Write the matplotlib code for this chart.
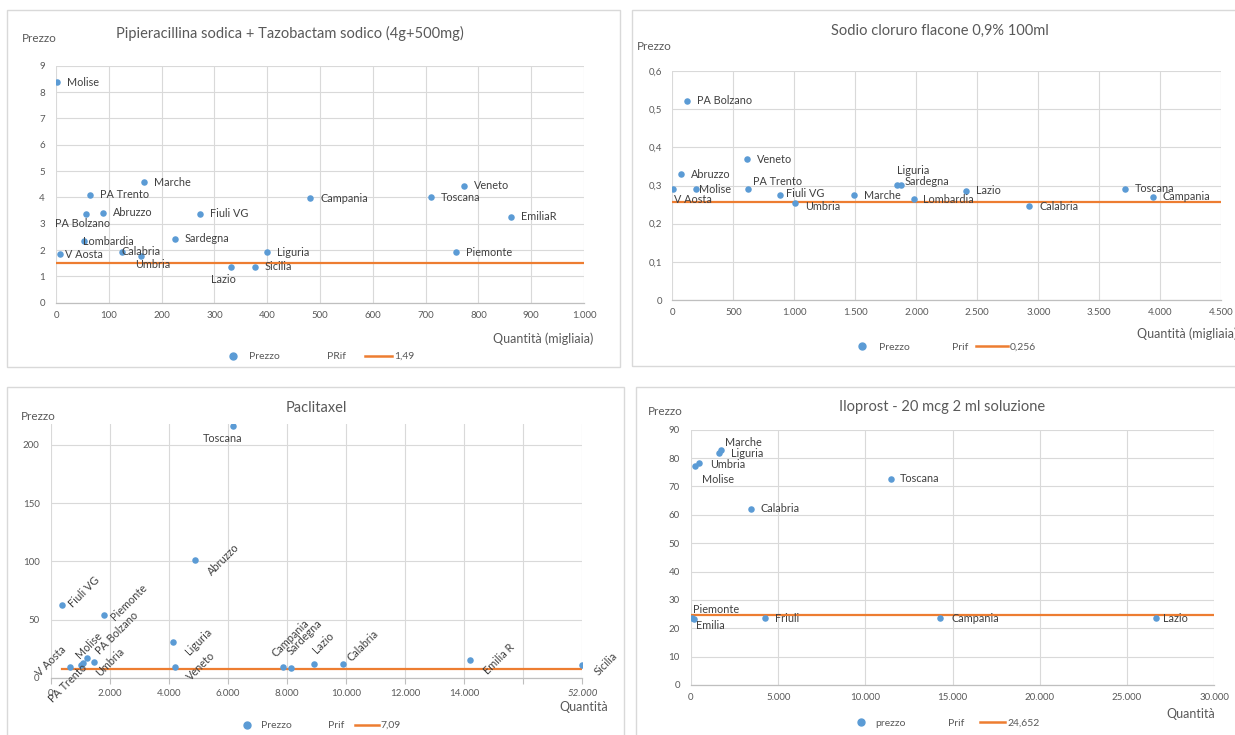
#scatter charts of price vs quantity per region, with the reference price line
import numpy as np
import matplotlib.pyplot as plt
from matplotlib.lines import Line2D
from matplotlib.patches import Rectangle

plt.rcParams['font.family'] = ['Lato', 'DejaVu Sans']

W, H = 1235, 735
BLUE = '#5B9BD5'
ORANGE = '#ED7D31'
GRID = '#D9D9D9'
TXT = '#595959'
LBL = '#404040'

# Pipieracillina sodica + Tazobactam sodico
pip_regioni = ['Molise', 'PA Trento', 'Marche', 'Abruzzo', 'PA Bolzano', 'Fiuli VG', 'Lombardia',
               'Sardegna', 'V Aosta', 'Calabria', 'Umbria', 'Liguria', 'Lazio', 'Sicilia',
               'Campania', 'Toscana', 'Veneto', 'EmiliaR', 'Piemonte']
pip_quantita = [1, 64, 166, 89, 57, 272, 53, 225, 8, 125, 161, 400, 331, 377, 482, 710, 772, 861, 758]
pip_prezzo = [8.38, 4.09, 4.58, 3.42, 3.38, 3.38, 2.33, 2.43, 1.84, 1.94, 1.79, 1.92, 1.37, 1.37,
              3.97, 4.0, 4.44, 3.26, 1.92]
pip_prif = 1.49

# Sodio cloruro flacone
sod_regioni = ['PA Bolzano', 'Veneto', 'Abruzzo', 'V Aosta', 'Molise', 'PA Trento', 'Fiuli VG',
               'Umbria', 'Marche', 'Liguria', 'Sardegna', 'Lombardia', 'Lazio', 'Calabria',
               'Toscana', 'Campania']
sod_quantita = [118, 610, 69, 5, 197, 618, 885, 1006, 1492, 1842, 1872, 1979, 2407, 2924, 3708, 3940]
sod_prezzo = [0.522, 0.369, 0.329, 0.29, 0.29, 0.29, 0.275, 0.253, 0.275, 0.301, 0.301, 0.265,
              0.286, 0.246, 0.291, 0.270]
sod_prif = 0.256

# Paclitaxel
pac_regioni = ['Toscana', 'Abruzzo', 'Fiuli VG', 'Piemonte', 'Liguria', 'V Aosta', 'PA Trento',
               'Molise', 'PA Bolzano', 'Umbria', 'Veneto', 'Campania', 'Sardegna', 'Lazio',
               'Calabria', 'Emilia R', 'Sicilia']
pac_quantita = [6180, 4892, 383, 1817, 4136, 654, 1027, 1095, 1220, 1478, 4203, 7864, 8136, 8915,
                9898, 14203, 52000]
pac_prezzo = [216, 101.4, 62.2, 53.5, 30.6, 9.5, 10.7, 12.4, 17.0, 13.3, 9.5, 9.0, 8.1, 11.8,
              11.8, 15.3, 11.0]
pac_prif = 7.09

# Iloprost
ilo_regioni = ['Marche', 'Liguria', 'Umbria', 'Molise', 'Toscana', 'Calabria', 'Piemonte',
               'Emilia', 'Friuli', 'Campania', 'Lazio']
ilo_quantita = [1736, 1623, 476, 229, 11460, 3438, 40, 190, 4258, 14310, 26690]
ilo_prezzo = [82.7, 81.9, 78.1, 77.2, 72.7, 62.1, 23.5, 23.1, 23.5, 23.6, 23.6]
ilo_prif = 24.652

# label offsets in pixels (dx, dy up), alignment, rotation
pip_off = {'PA Bolzano': (-4, -10, 'center'), 'Lombardia': (-1, 0, 'left'), 'V Aosta': (5, 0, 'left'),
           'Calabria': (0, 0, 'left'), 'Umbria': (12, -9, 'center'), 'Lazio': (-7, -13, 'center')}
sod_off = {'V Aosta': (1, -10, 'left'), 'Molise': (3, 0, 'left'), 'PA Trento': (5, 8, 'left'),
           'Fiuli VG': (6, 2, 'left'), 'Umbria': (10, -3, 'left'), 'Liguria': (0, 15, 'left'),
           'Sardegna': (4, 4, 'left'), 'Lombardia': (9, -1, 'left')}
pac_off = {'Toscana': (-11, -12, 'center', 0), 'Abruzzo': (14, -14), 'Fiuli VG': (9, 0),
           'Piemonte': (8, -3), 'Liguria': (14, -11), 'Veneto': (14, -12), 'Campania': (-9, 12),
           'Sardegna': (-2, 15), 'Lazio': (1, 12), 'Calabria': (6, 4), 'Emilia R': (15, -13),
           'Sicilia': (14, -9), 'V Aosta': (-32, -8), 'PA Trento': (-31, -35), 'Molise': (-6, 7),
           'PA Bolzano': (11, 5), 'Umbria': (3, -12)}
ilo_off = {'Marche': (4, 8, 'left'), 'Liguria': (12, -1, 'left'), 'Umbria': (11, -1, 'left'),
           'Molise': (7, -13, 'left'), 'Toscana': (9, 0, 'left'), 'Piemonte': (1, 9, 'left'),
           'Emilia': (2, -6, 'left'), 'Friuli': (10, 0, 'left'), 'Campania': (11, 0, 'left'),
           'Lazio': (7, 0, 'left')}


def it_num(v):
    return f"{v:,.0f}".replace(",", ".")


def it_dec(v, digits=1):
    return "0" if v == 0 else f"{v:.{digits}f}".replace(".", ",")


def px_box(l, t, r, b):
    return [l / W, 1 - b / H, (r - l) / W, (b - t) / H]


def fig_text(fig, x, y, s, **kw):
    fig.text(x / W, 1 - y / H, s, **kw)


def style_axes(ax, xpad, ypad):
    for side in ['top', 'right', 'left']:
        ax.spines[side].set_visible(False)
    ax.spines['bottom'].set_color('#BFBFBF')
    ax.spines['bottom'].set_linewidth(0.9)
    ax.grid(True, color=GRID, linewidth=0.8)
    ax.set_axisbelow(True)
    ax.tick_params(axis='both', length=0, labelsize=7, labelcolor=TXT)
    ax.tick_params(axis='x', pad=xpad)
    ax.tick_params(axis='y', pad=ypad)


def draw_points(ax, q, p, prif, xmax, xpos=None):
    if xpos is None:
        xpos = q
    ax.scatter(xpos, p, s=22, color=BLUE, zorder=3, linewidths=0)
    ax.plot([min(xpos), xmax], [prif, prif], color=ORANGE, lw=1.6, zorder=2)


def draw_labels(ax, names, xpos, p, offsets):
    for name, x, y in zip(names, xpos, p):
        dx, dy, ha = offsets.get(name, (10, 0, 'left'))
        ax.annotate(name, (x, y), xytext=(dx * 0.72, dy * 0.72), textcoords='offset points',
                    ha=ha, va='center', fontsize=7.8, color=LBL, zorder=4)


def draw_legend(fig, cx, cy, prezzo_label, prif_label, value_label, hl, cs):
    handles = [Line2D([], [], marker='o', color=BLUE, ls='none', markersize=5),
               Line2D([], [], ls='none'),
               Line2D([], [], color=ORANGE, lw=1.8)]
    fig.legend(handles, [prezzo_label, prif_label, value_label],
               loc='center', bbox_to_anchor=(cx / W, 1 - cy / H), ncol=3, frameon=False,
               fontsize=7.5, labelcolor=TXT, handlelength=hl, handletextpad=0.2,
               columnspacing=cs, borderpad=0, borderaxespad=0)


def main():
    fig = plt.figure(figsize=(W / 100, H / 100), dpi=100)

    # panel frames
    for l, t, r, b in [(7, 10, 620, 367), (632, 10, 1240, 366), (7, 387, 624, 740), (636, 387, 1240, 740)]:
        fig.patches.append(Rectangle((l / W, 1 - b / H), (r - l) / W, (b - t) / H, fill=False,
                                     edgecolor='#D9D9D9', lw=1.0, transform=fig.transFigure))

    # --- Pipieracillina ---
    ax = fig.add_axes(px_box(56, 65.7, 584, 302.7))
    draw_points(ax, pip_quantita, pip_prezzo, pip_prif, 1000)
    draw_labels(ax, pip_regioni, pip_quantita, pip_prezzo, pip_off)
    ax.set_xlim(0, 1000)
    ax.set_ylim(0, 9)
    ax.set_xticks(np.arange(0, 1001, 100))
    ax.set_xticklabels([it_num(v) for v in np.arange(0, 1001, 100)])
    ax.set_yticks(np.arange(0, 10, 1))
    style_axes(ax, 6, 8)
    fig_text(fig, 290, 33, 'Pipieracillina sodica + Tazobactam sodico (4g+500mg)', ha='center',
             va='center', fontsize=10.5, color=TXT)
    fig_text(fig, 22, 38.3, 'Prezzo', ha='left', va='center', fontsize=8.5, color=TXT)
    fig_text(fig, 593, 338.3, 'Quantità (migliaia)', ha='right', va='center', fontsize=9, color=TXT)
    draw_legend(fig, 317, 356.5, 'Prezzo', 'PRif', it_dec(pip_prif, 2), 2.6, 1.8)

    # --- Sodio cloruro ---
    ax = fig.add_axes(px_box(672.3, 71, 1221.3, 300))
    draw_points(ax, sod_quantita, sod_prezzo, sod_prif, 4500)
    draw_labels(ax, sod_regioni, sod_quantita, sod_prezzo, sod_off)
    ax.set_xlim(0, 4500)
    ax.set_ylim(0, 0.6)
    ax.set_xticks(np.arange(0, 4501, 500))
    ax.set_xticklabels([it_num(v) for v in np.arange(0, 4501, 500)])
    ax.set_yticks(np.arange(0, 0.61, 0.1))
    ax.set_yticklabels([it_dec(v) for v in np.arange(0, 0.61, 0.1)])
    style_axes(ax, 6, 7)
    fig_text(fig, 940, 30.7, 'Sodio cloruro flacone 0,9% 100ml', ha='center', va='center',
             fontsize=10.5, color=TXT)
    fig_text(fig, 636.7, 46.7, 'Prezzo', ha='left', va='center', fontsize=8.5, color=TXT)
    fig_text(fig, 1237, 333.3, 'Quantità (migliaia)', ha='right', va='center', fontsize=9, color=TXT)
    draw_legend(fig, 941, 347, 'Prezzo', 'Prif', it_dec(sod_prif, 3), 3.0, 0.8)

    # --- Paclitaxel (axis broken after 16.000, Sicilia placed at the end) ---
    ax = fig.add_axes(px_box(50.7, 424, 582.3, 677.7))
    q = np.array(pac_quantita)
    xpos = np.where(q > 16000, 18000, q)
    draw_points(ax, pac_quantita, pac_prezzo, pac_prif, 18000, xpos)
    for name, x, y in zip(pac_regioni, xpos, pac_prezzo):
        off = pac_off[name]
        dx, dy = off[0], off[1]
        if len(off) > 2:
            ax.annotate(name, (x, y), xytext=(dx * 0.72, dy * 0.72), textcoords='offset points',
                        ha=off[2], va='center', fontsize=7.8, color=LBL, zorder=4)
        else:
            ax.annotate(name, (x, y), xytext=(dx * 0.72, dy * 0.72), textcoords='offset points',
                        ha='left', va='center', rotation=45, rotation_mode='anchor',
                        fontsize=7.8, color=LBL, zorder=4)
    ax.set_xlim(0, 18000)
    ax.set_ylim(0, 218)
    ticks = np.arange(0, 18001, 2000)
    ax.set_xticks(ticks)
    labels = [it_num(v) for v in ticks[:-2]] + ['', it_num(q.max())]
    ax.set_xticklabels(labels)
    ax.get_xticklabels()[-1].set_style('italic')
    ax.set_yticks(np.arange(0, 201, 50))
    style_axes(ax, 4, 8)
    ax.tick_params(axis='x', length=4, color='#BFBFBF', direction='out')
    fig_text(fig, 316, 407.7, 'Paclitaxel', ha='center', va='center', fontsize=10.5, color=TXT)
    fig_text(fig, 20.7, 417, 'Prezzo', ha='left', va='center', fontsize=8.5, color=TXT)
    fig_text(fig, 608, 706.7, 'Quantità', ha='right', va='center', fontsize=9, color=TXT)
    draw_legend(fig, 318, 725.5, 'Prezzo', 'Prif', it_dec(pac_prif, 2), 2.3, 1.0)

    # --- Iloprost ---
    ax = fig.add_axes(px_box(691, 429.7, 1214, 685))
    draw_points(ax, ilo_quantita, ilo_prezzo, ilo_prif, 30000)
    draw_labels(ax, ilo_regioni, ilo_quantita, ilo_prezzo, ilo_off)
    ax.set_xlim(0, 30000)
    ax.set_ylim(0, 90)
    ax.set_xticks(np.arange(0, 30001, 5000))
    ax.set_xticklabels([it_num(v) for v in np.arange(0, 30001, 5000)])
    ax.set_yticks(np.arange(0, 91, 10))
    style_axes(ax, 6, 8)
    fig_text(fig, 942.5, 407.3, 'Iloprost - 20 mcg 2 ml soluzione', ha='center', va='center',
             fontsize=10.5, color=TXT)
    fig_text(fig, 647.7, 411.3, 'Prezzo', ha='left', va='center', fontsize=8.5, color=TXT)
    fig_text(fig, 1215, 714.3, 'Quantità', ha='right', va='center', fontsize=9, color=TXT)
    draw_legend(fig, 944, 723.5, 'prezzo', 'Prif', it_dec(ilo_prif, 3), 2.4, 1.5)

    fig.savefig('out.png', dpi=100, facecolor='white')


if __name__ == "__main__":
    main()
